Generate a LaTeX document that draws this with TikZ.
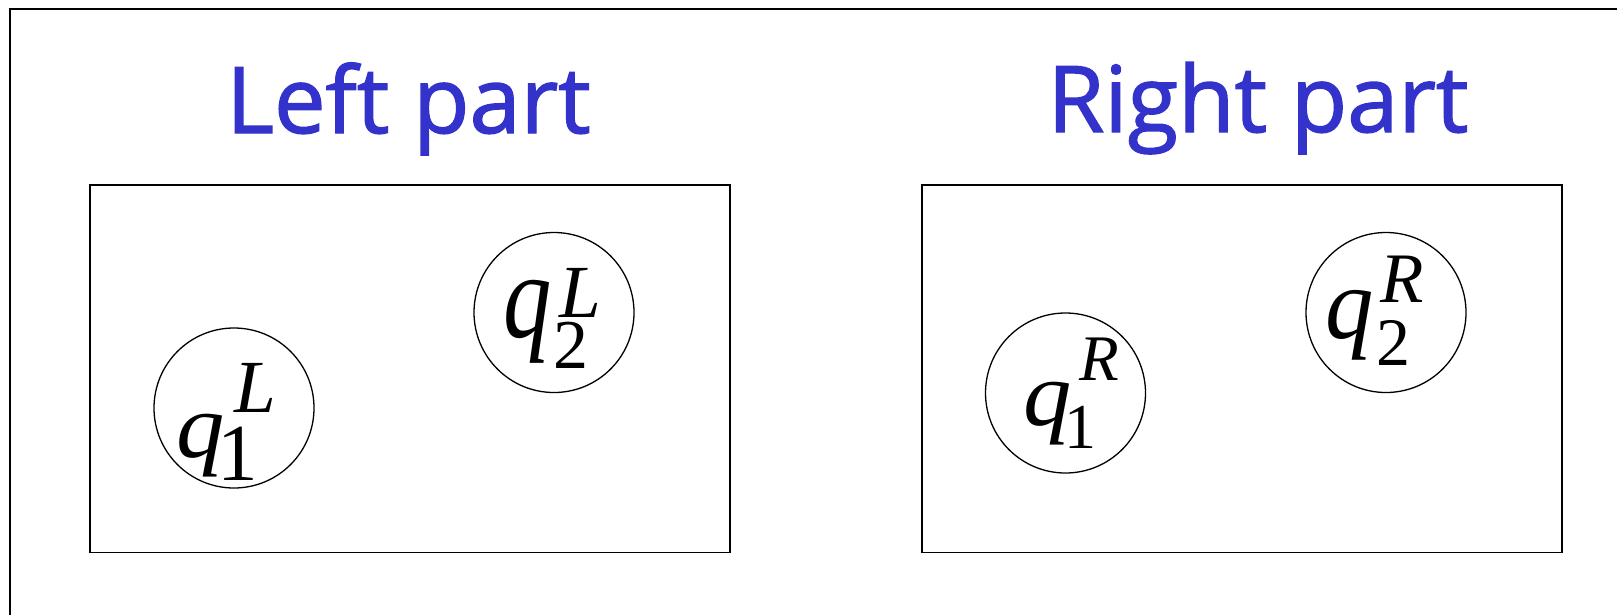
\documentclass[tikz,border=0pt]{standalone}
\usepackage{fontspec}
\newfontfamily\ttlfont[FakeBold=1.5]{Open Sans}
\newfontfamily\tmsfont{Liberation Serif}
\definecolor{titleblue}{RGB}{51,51,204}
\begin{document}
\begin{tikzpicture}[x=1pt,y=-1pt,
  frameline/.style={line width=2pt},
  partbox/.style={draw, line width=1.8pt},
  atom/.style={draw, circle, line width=1.3pt, minimum size=160pt, inner sep=0pt},
  ttlnode/.style={text=titleblue, font=\ttlfont\fontsize{92}{110}\selectfont, inner sep=0pt, anchor=base},
  qnode/.style={inner sep=0pt, anchor=base west, font=\tmsfont\itshape\fontsize{92}{100}\selectfont},
  subnode/.style={inner sep=0pt, anchor=base west, font=\tmsfont\fontsize{#1}{#1}\selectfont},
  supnode/.style={inner sep=0pt, anchor=base west, font=\tmsfont\itshape\fontsize{#1}{#1}\selectfont}]
\useasboundingbox (0,0) rectangle (1617,614);
\fill[white] (0,0) rectangle (1617,614);
\clip (0,0) rectangle (1617,614);
\draw[frameline] (10,630) -- (10,9.3) -- (1630,9.3);
% titles
\node[ttlnode] (tleft) at (408.5,133) {Left part};
\node[ttlnode] (tright) at (1258,132) {Right part};
% part boxes
\draw[partbox] (90,185) rectangle (730,552.5);
\draw[partbox] (922,185) rectangle (1562,552.5);
% atoms
\node[atom] (c1L) at (234,408) {};
\node[atom] (c2L) at (554,312.5) {};
\node[atom] (c1R) at (1065.5,393) {};
\node[atom] (c2R) at (1386,312.5) {};
% labels q1L
\node[qnode] (q1Lq) at (176,457) {\scalebox{1.05}[1]{q}};
\node[subnode=81] (q1Ls) at (217,480) {1};
\node[supnode=75] (q1Lt) at (234,412) {L};
% labels q2L
\node[qnode] (q2Lq) at (503,337) {\scalebox{1.05}[1.32]{q}};
\node[subnode=70] (q2Ls) at (553,368) {2};
\node[supnode=75] (q2Lt) at (559,317) {L};
% labels q1R
\node[qnode] (q1Rq) at (1023,425) {\scalebox{1.05}[1]{q}};
\node[subnode=64] (q1Rs) at (1064,448) {1};
\node[supnode=65] (q1Rt) at (1079,380) {R};
% labels q2R
\node[qnode] (q2Rq) at (1325,338) {\scalebox{1.05}[1.11]{q}};
\node[subnode=68] (q2Rs) at (1376,365) {2};
\node[supnode=71] (q2Rt) at (1380,302) {R};
\end{tikzpicture}
\end{document}
